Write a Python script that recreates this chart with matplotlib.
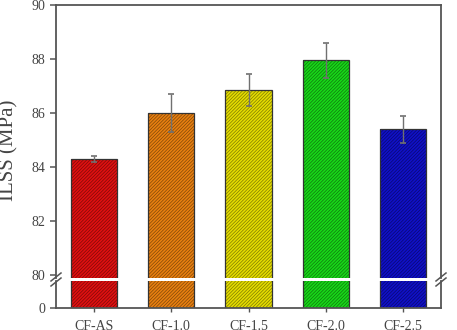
import matplotlib
matplotlib.use("Agg")
import matplotlib.pyplot as plt
import numpy as np

categories = ["CF-AS", "CF-1.0", "CF-1.5", "CF-2.0", "CF-2.5"]
ilss = [84.3, 86.0, 86.85, 87.95, 85.4]
err = [0.1, 0.7, 0.6, 0.65, 0.5]
colors = ["#e01010", "#e88010", "#e4dc00", "#18d818", "#1010c8"]
yticks_top = [80, 82, 84, 86, 88, 90]
yticks_bottom = [0]

plt.rcParams["font.family"] = ["Liberation Serif", "DejaVu Serif"]
plt.rcParams["hatch.linewidth"] = 0.5
W, H = 457, 330
fig = plt.figure(figsize=(W / 100, H / 100), dpi=100)

left, right = 56, 441
top_y, break_top, break_bot, bottom_y = 5, 278, 281, 308

def rect(y0, y1):
    return [left / W, (H - y1) / H, (right - left) / W, (y1 - y0) / H]

ax_top = fig.add_axes(rect(top_y, break_top))
ax_bot = fig.add_axes(rect(break_bot, bottom_y))

x = np.arange(len(categories))
spine_col = "#555555"
text_col = "#444444"
for ax in (ax_top, ax_bot):
    ax.bar(x, ilss, width=0.6, color=colors, linewidth=0, zorder=2)
    ax.bar(x, ilss, width=0.6, facecolor="none", edgecolor=(0, 0, 0, 0.45),
           hatch="//////////", linewidth=0, zorder=2.1)
    ax.bar(x, ilss, width=0.6, facecolor="none", edgecolor="#333333",
           linewidth=0.9, zorder=2.2)
    ax.set_xlim(-0.49, len(categories) - 0.51)
    for s in ax.spines.values():
        s.set_color(spine_col)
        s.set_linewidth(1.3)
    ax.tick_params(axis="y", direction="out", length=4, width=1.1,
                   color=spine_col, labelcolor=text_col, labelsize=10)

ax_top.errorbar(x, ilss, yerr=err, fmt="none", ecolor="#707070",
                elinewidth=1.0, capsize=2.5, capthick=1.2, zorder=3)
ax_top.set_ylim(79.9, 90)
ax_top.set_yticks(yticks_top)
ax_top.spines["bottom"].set_visible(False)
ax_top.tick_params(axis="x", bottom=False, labelbottom=False)

ax_bot.set_ylim(0, 10)
ax_bot.set_yticks(yticks_bottom)
ax_bot.spines["top"].set_visible(False)
ax_bot.set_xticks(x)
ax_bot.set_xticklabels(categories)
ax_bot.tick_params(axis="x", direction="out", length=3, width=1.0,
                   color=spine_col, labelcolor=text_col, labelsize=10, pad=6)

# break marks
d = 5 / W
for xpix in (left, right):
    for off in (-2.5, 2.5):
        yc = (H - (break_top + break_bot) / 2 + off) / H
        fig.add_artist(plt.Line2D([xpix / W - d, xpix / W + d],
                                  [yc - 4 / H, yc + 4 / H],
                                  color=spine_col, lw=1.1))

fig.text(9 / W, 1 - 150 / H, "ILSS (MPa)", rotation=90, va="center", ha="center",
         fontsize=15, color=text_col)

fig.savefig("out.png", dpi=100)
